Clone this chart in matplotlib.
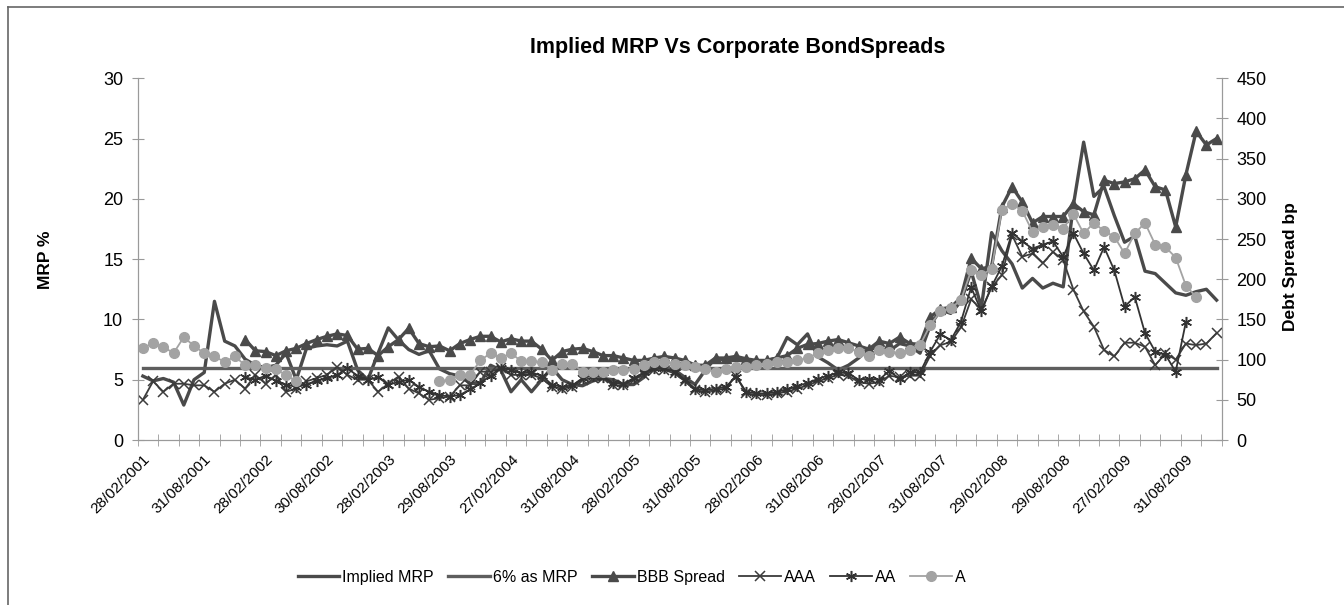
import numpy as np
import matplotlib
matplotlib.use("Agg")
import matplotlib.pyplot as plt
from matplotlib.lines import Line2D

plt.rcParams['font.family'] = ['Liberation Sans', 'DejaVu Sans']

nan = np.nan

# 106 monthly observations, Feb 2001 .. Nov 2009
tick_labels = ['28/02/2001', '31/08/2001', '28/02/2002', '30/08/2002', '28/02/2003',
               '29/08/2003', '27/02/2004', '31/08/2004', '28/02/2005', '31/08/2005',
               '28/02/2006', '31/08/2006', '28/02/2007', '31/08/2007', '29/02/2008',
               '29/08/2008', '27/02/2009', '31/08/2009']

# MRP %, left axis
implied_mrp = [5.3, 4.9, 5.1, 4.8, 2.9, 5.0, 5.6, 11.5, 8.2, 7.8,
               6.7, 6.2, 6.0, 6.2, 7.2, 5.0, 7.6, 7.8, 7.9, 7.8,
               8.2, 5.8, 5.0, 7.2, 9.3, 8.3, 7.5, 7.1, 7.4, 5.9,
               5.5, 5.3, 4.7, 4.7, 6.2, 5.8, 4.0, 5.0, 4.0, 5.0,
               6.0, 5.0, 4.6, 4.5, 4.9, 5.1, 5.0, 4.6, 4.6, 5.2,
               6.2, 6.0, 5.8, 5.2, 4.6, 5.8, 6.8, 6.6, 6.7, 6.5,
               6.4, 6.6, 6.8, 8.5, 7.9, 8.8, 6.9, 6.4, 5.8, 6.2,
               6.8, 7.6, 7.6, 7.4, 8.0, 7.8, 7.2, 9.5, 10.8, 10.5,
               11.5, 14.0, 11.0, 17.2, 15.7, 14.6, 12.6, 13.4, 12.6, 13.0,
               12.7, 19.5, 24.7, 20.2, 21.0, 18.6, 16.4, 16.9, 14.0, 13.8,
               13.0, 12.2, 12.0, 12.3, 12.5, 11.6]
mrp_6 = [6.0] * 106

# spreads in bp, right axis
bbb = [nan] * 10 + [
    125, 111, 110, 105, 111, 114, 120, 125, 129, 132,
    130, 113, 114, 105, 116, 125, 139, 120, 116, 117,
    111, 120, 125, 129, 129, 122, 126, 123, 123, 113,
    99, 110, 113, 114, 110, 105, 105, 102, 99, 99,
    102, 104, 102, 99, 93, 93, 102, 102, 104, 101,
    99, 99, 102, 105, 114, 119, 120, 123, 125, 121,
    117, 113, 123, 120, 128, 120, 119, 153, 163, 165,
    177, 226, 213, 216, 290, 315, 296, 270, 278, 278,
    278, 294, 284, 280, 323, 319, 321, 325, 336, 315,
    311, 265, 330, 384, 367, 375]

aaa = [50, 73, 60, 70, 70, 68, 68, 60, 70, 75,
       64, 81, 70, 81, 60, 64, 73, 77, 81, 91,
       81, 75, 75, 60, 70, 79, 64, 58, 50, 52,
       54, 68, 68, 85, 85, 89, 81, 81, 81, 77,
       66, 64, 66, 75, 77, 77, 68, 68, 75, 81,
       87, 87, 83, 73, 62, 60, 62, 64, 80, 58,
       56, 56, 58, 60, 64, 68, 73, 77, 81, 80,
       72, 70, 72, 80, 78, 80, 80, 105, 118, 122,
       140, 175, 162, 190, 205, 255, 228, 232, 220, 234,
       224, 187, 160, 141, 112, 104, 121, 121, 116, 93,
       108, 100, 120, 118, 120, 133]

aa = [nan] * 10 + [
    78, 75, 80, 74, 69, 66, 69, 74, 77, 81,
    89, 80, 75, 78, 69, 72, 75, 66, 60, 56,
    54, 56, 63, 71, 80, 90, 87, 83, 84, 80,
    69, 66, 68, 77, 80, 79, 71, 70, 77, 84,
    90, 89, 85, 75, 64, 62, 64, 66, 79, 60,
    58, 58, 60, 63, 67, 71, 76, 80, 84, 83,
    75, 76, 75, 86, 76, 84, 84, 110, 132, 124,
    147, 190, 160, 191, 216, 258, 247, 238, 243, 247,
    228, 257, 232, 211, 240, 211, 166, 178, 133, 110,
    106, 85, 147] + [nan] * 3

a = [114, 121, 116, 108, 128, 117, 108, 104, 97, 104,
     93, 93, 89, 88, 81, 73] + [nan] * 13 + [
     73, 75, 81, 81, 99, 108, 102,
     108, 98, 98, 97, 87, 95, 95, 85, 85, 85,
     87, 87, 88, 93, 97, 97, 95, 93, 91, 88,
     85, 88, 91, 91, 93, 95, 97, 97, 99, 102,
     108, 112, 114, 114,
     110, 104, 112, 110, 108, 112, 118, 143, 160, 164,
     174, 211, 205, 213, 286, 294, 285, 259, 265, 268,
     263, 281, 257, 270, 260, 253, 232, 257, 270, 243,
     240, 227, 192, 178] + [nan] * 2

x = np.arange(len(implied_mrp))

fig = plt.figure(figsize=(13.44, 6.05), dpi=100)
ax = fig.add_axes([0.1025, 0.2727, 0.8065, 0.598])
ax2 = ax.twinx()

l1, = ax.plot(x, implied_mrp, color='#4a4a4a', lw=2.4, label='Implied MRP')
l2, = ax.plot(x, mrp_6, color='#5e5e5e', lw=2.4, label='6% as MRP')

l3, = ax2.plot(x, bbb, color='#4a4a4a', lw=2.4, marker='^', ms=7, label='BBB Spread')
l4, = ax2.plot(x, aaa, color='#3c3c3c', lw=1.3, marker='x', ms=7, mew=1.1, label='AAA')
l5, = ax2.plot(x, aa, color='#333333', lw=1.3, marker=(6, 2, 0), ms=8, mew=1.1, label='AA')
l6, = ax2.plot(x, a, color='#a3a3a3', lw=1.3, marker='o', ms=7, label='A')

ax.set_xlim(-0.5, len(x) - 0.5)
ax.set_ylim(0, 30)
ax2.set_ylim(0, 450)
ax.set_yticks(range(0, 31, 5))
ax2.set_yticks(range(0, 451, 50))

ax.set_xticks(np.arange(0, 103, 6))
ax.set_xticklabels(tick_labels, rotation=45, ha='right', va='top',
                   rotation_mode='anchor', fontsize=11)
ax.set_xticks(np.arange(-0.5, len(x), 2), minor=True)
ax.tick_params(axis='x', which='major', length=0, pad=9)
ax.tick_params(axis='x', which='minor', length=9, direction='inout', color='#9a9a9a')
ax.tick_params(axis='y', length=9, direction='inout', color='#9a9a9a', labelsize=13, pad=6)
ax2.tick_params(axis='y', length=9, direction='inout', color='#9a9a9a', labelsize=13, pad=6)

for axis in (ax, ax2):
    axis.spines['top'].set_visible(False)
    for s in ('left', 'right', 'bottom'):
        axis.spines[s].set_color('#9a9a9a')

fig.text(0.549, 0.922, 'Implied MRP Vs Corporate BondSpreads', ha='center', va='center',
         fontsize=15.5, fontweight='bold')
fig.text(0.0335, 0.57, 'MRP %', rotation=90, ha='center', va='center',
         fontsize=12.5, fontweight='bold')
fig.text(0.96, 0.56, 'Debt Spread bp', rotation=90, ha='center', va='center',
         fontsize=12.5, fontweight='bold')

fig.legend(handles=[l1, l2, l3, l4, l5, l6], loc='center', ncol=6,
           bbox_to_anchor=(0.47, 0.046), frameon=False, fontsize=11.5,
           handlelength=2.6, handletextpad=0.2, columnspacing=0.9)

# chart border (top and left edges visible in the crop)
fig.add_artist(Line2D([0.006, 1.0], [0.9884, 0.9884], color='#666666', lw=1.2,
                      transform=fig.transFigure))
fig.add_artist(Line2D([0.006, 0.006], [0.0, 0.9884], color='#666666', lw=1.2,
                      transform=fig.transFigure))

fig.savefig('out.png', dpi=100)
